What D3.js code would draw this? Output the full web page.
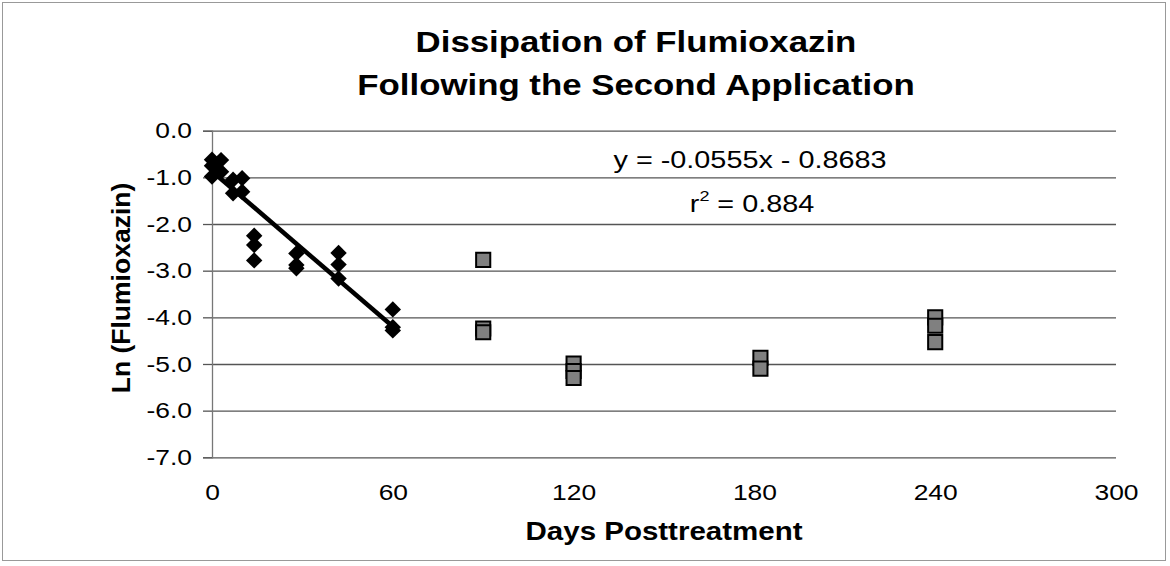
<!DOCTYPE html>
<html>
<head>
<meta charset="utf-8">
<script src="https://cdn.jsdelivr.net/npm/d3@7"></script>
<style>
  html, body { margin: 0; padding: 0; background: #fff; }
  svg { display: block; font-family: "Liberation Sans", Arial, sans-serif; }
</style>
</head>
<body>
<script>
const [width, height] = [1170, 566];
const margin = ({top: 130.7, right: 54, bottom: 108.7, left: 212});

// first application series (fitted), diamonds
const diamondDays = [0, 0, 0, 3, 3, 7, 7, 10, 10, 14, 14, 14, 28, 28, 28, 42, 42, 42, 60, 60, 60];
const diamondLn = [-0.62, -0.75, -0.98, -0.63, -0.88, -1.05, -1.34, -1.02, -1.31,
  -2.25, -2.45, -2.78, -2.63, -2.88, -2.95, -2.62, -2.87, -3.17, -3.83, -4.21, -4.28];

// later samples, squares
const squareDays = [90, 90, 90, 120, 120, 120, 182, 182, 240, 240, 240];
const squareLn = [-2.77, -4.24, -4.32, -4.99, -5.15, -5.30, -4.87, -5.10, -4.00, -4.18, -4.53];

// linear trend over the first 60 days
const trendSlope = -0.0555;
const trendIntercept = -0.8683;
const trendRange = [0, 60];

const xTicks = [0, 60, 120, 180, 240, 300];
const yTicks = [0, -1, -2, -3, -4, -5, -6, -7];

const titleLines = ["Dissipation of Flumioxazin", "Following the Second Application"];
const equationLines = ["y = -0.0555x - 0.8683", "= 0.884"];

const stretch = 1.18; // the scan is a bit wider than tall

const svg = d3.select("body").append("svg")
    .attr("width", width)
    .attr("height", height)
    .attr("viewBox", [0, 0, width, height]);

svg.append("rect")
    .attr("x", 2.5).attr("y", 2.5)
    .attr("width", 1163).attr("height", 558)
    .attr("fill", "#fff")
    .attr("stroke", "#999")
    .attr("stroke-width", 1);

const x = d3.scaleLinear()
    .domain([0, 300])
    .range([margin.left, width - margin.right]);

const y = d3.scaleLinear()
    .domain([-7, 0])
    .range([height - margin.bottom, margin.top]);

// gridlines + short outer ticks
svg.append("g")
    .attr("transform", `translate(${margin.left},0)`)
    .call(d3.axisLeft(y).tickValues(yTicks).tickSizeInner(-(x(300) - x(0))).tickSizeOuter(0).tickFormat(""))
    .call(g => g.select(".domain").remove())
    .call(g => g.selectAll(".tick line").attr("stroke", "#555").attr("stroke-width", 1.3));

svg.append("g")
    .attr("transform", `translate(${margin.left},0)`)
    .call(d3.axisLeft(y).tickValues(yTicks).tickSize(9).tickPadding(11).tickFormat(d3.format(".1f")))
    .call(g => g.select(".domain").attr("stroke", "#777").attr("stroke-width", 1.3))
    .call(g => g.selectAll(".tick line").attr("stroke", "#555").attr("stroke-width", 1.3))
    .call(g => g.selectAll(".tick text")
        .attr("font-size", 22)
        .attr("fill", "#000")
        .attr("transform", `scale(1.2,1)`)
        .attr("x", -20 / 1.2)
        .text(d => d3.format(".1f")(d).replace("−", "-")));

svg.append("g")
    .attr("transform", `translate(0,${height - margin.bottom})`)
    .call(d3.axisBottom(x).tickValues(xTicks).tickSize(0).tickPadding(27).tickFormat(d3.format("d")))
    .call(g => g.select(".domain").remove())
    .call(g => g.selectAll(".tick text")
        .attr("font-size", 22)
        .attr("fill", "#000")
        .attr("transform", `scale(1.2,1)`));

// trend line
const line = d3.line()
    .x(d => x(d))
    .y(d => y(trendSlope * d + trendIntercept));

svg.append("path")
    .datum(trendRange)
    .attr("d", line)
    .attr("fill", "none")
    .attr("stroke", "#000")
    .attr("stroke-width", 4.5);

const diamond = d3.symbol().type(d3.symbolSquare).size(135)();
svg.append("g")
    .selectAll("path")
    .data(d3.zip(diamondDays, diamondLn))
    .join("path")
        .attr("d", diamond)
        .attr("transform", d => `translate(${x(d[0])},${y(d[1])}) rotate(45)`)
        .attr("fill", "#000");

const square = d3.symbol().type(d3.symbolSquare).size(200)();
svg.append("g")
    .selectAll("path")
    .data(d3.zip(squareDays, squareLn))
    .join("path")
        .attr("d", square)
        .attr("transform", d => `translate(${x(d[0])},${y(d[1])})`)
        .attr("fill", "#808080")
        .attr("stroke", "#000")
        .attr("stroke-width", 2);

// title
svg.append("g")
    .selectAll("text")
    .data(titleLines)
    .join("text")
        .attr("transform", (d, i) => `translate(636,${52 + i * 43}) scale(${stretch},1)`)
        .attr("text-anchor", "middle")
        .attr("font-size", 29.5)
        .attr("font-weight", "bold")
        .text(d => d);

// regression text
const eq = svg.append("g").attr("font-size", 24);
eq.append("text")
    .attr("transform", `translate(750,168) scale(1.2,1)`)
    .attr("text-anchor", "middle")
    .text(equationLines[0]);
const r2 = eq.append("text")
    .attr("transform", `translate(752,212) scale(1.2,1)`)
    .attr("text-anchor", "middle");
r2.append("tspan").text("r");
r2.append("tspan").attr("font-size", 15).attr("dy", -11).text("2");
r2.append("tspan").attr("dy", 11).text(" " + equationLines[1]);

// axis titles
const cx = (x(0) + x(300)) / 2;
svg.append("text")
    .attr("transform", `translate(${cx},540) scale(${stretch},1)`)
    .attr("text-anchor", "middle")
    .attr("font-size", 25)
    .attr("font-weight", "bold")
    .text("Days Posttreatment");

svg.append("text")
    .attr("transform", `translate(130,${(y(0) + y(-7)) / 2 - 6}) rotate(-90)`)
    .attr("text-anchor", "middle")
    .attr("font-size", 26.5)
    .attr("font-weight", "bold")
    .text("Ln (Flumioxazin)");
</script>
</body>
</html>
